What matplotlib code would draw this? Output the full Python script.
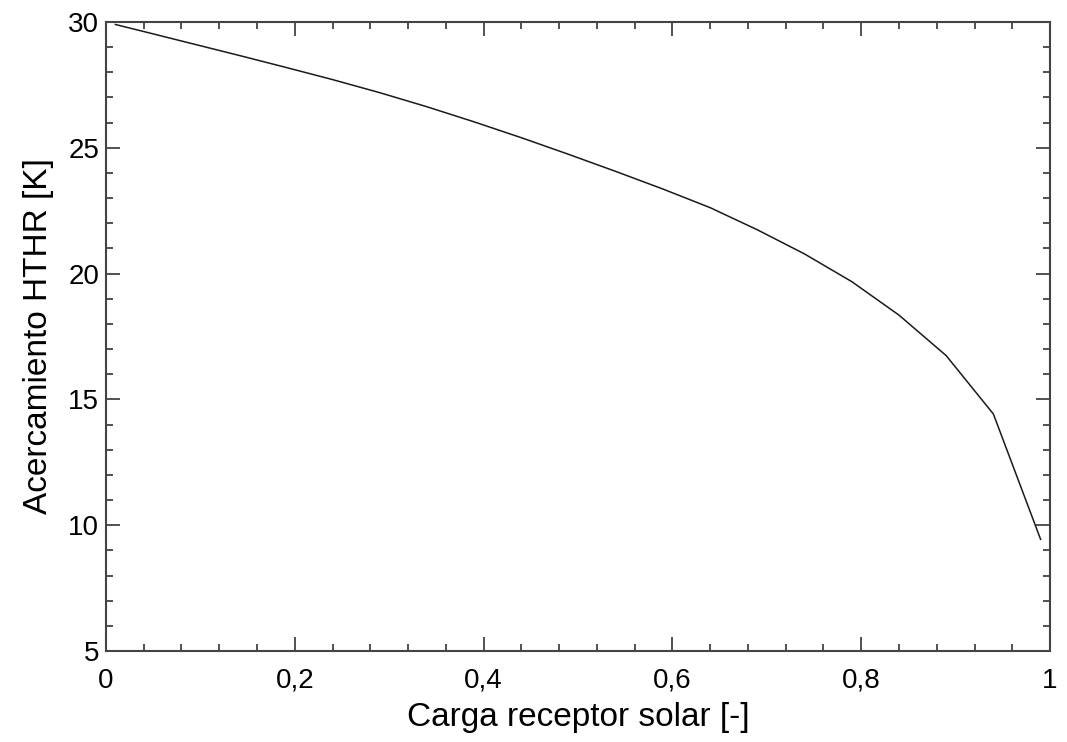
import matplotlib
matplotlib.use('Agg')
import matplotlib.pyplot as plt
from matplotlib.ticker import MultipleLocator, FuncFormatter

# solar receiver load vs HTHR approach temperature
carga = [0.01, 0.04, 0.09, 0.14, 0.19, 0.24, 0.29, 0.34, 0.39, 0.44, 0.49,
         0.54, 0.59, 0.64, 0.69, 0.74, 0.79, 0.84, 0.89, 0.94, 0.99]
acercamiento = [29.9, 29.62, 29.15, 28.68, 28.2, 27.71, 27.19, 26.63, 26.03, 25.4, 24.74,
                24.06, 23.36, 22.62, 21.74, 20.78, 19.68, 18.35, 16.74, 14.42, 9.44]

plt.rcParams['font.family'] = ['Liberation Sans', 'DejaVu Sans']

fig = plt.figure(figsize=(10.67, 7.42), dpi=100)
ax = fig.add_axes([0.0993, 0.1226, 0.8848, 0.8478])

ax.plot(carga, acercamiento, color='#1a1a1a', linewidth=1.1)

ax.set_xlim(0, 1)
ax.set_ylim(5, 30)
ax.xaxis.set_major_locator(MultipleLocator(0.2))
ax.xaxis.set_minor_locator(MultipleLocator(0.04))
ax.yaxis.set_major_locator(MultipleLocator(5))
ax.yaxis.set_minor_locator(MultipleLocator(1))


def coma(v, pos):
    s = ('%.1f' % v).rstrip('0').rstrip('.')
    return s.replace('.', ',')


ax.xaxis.set_major_formatter(FuncFormatter(coma))

ax.tick_params(which='both', direction='in', top=True, right=True,
               color='#333333', width=1.2, labelsize=20)
ax.tick_params(axis='x', which='both', pad=12)
ax.tick_params(axis='y', which='both', pad=5)
ax.tick_params(which='major', length=10)
ax.tick_params(which='minor', length=5)
for s in ax.spines.values():
    s.set_linewidth(1.5)
    s.set_color('#444444')

ax.set_xlabel('Carga receptor solar [-]', fontsize=24, labelpad=6)
ax.set_ylabel('Acercamiento HTHR [K]', fontsize=24, labelpad=10)

fig.savefig('out.png', dpi=100)
